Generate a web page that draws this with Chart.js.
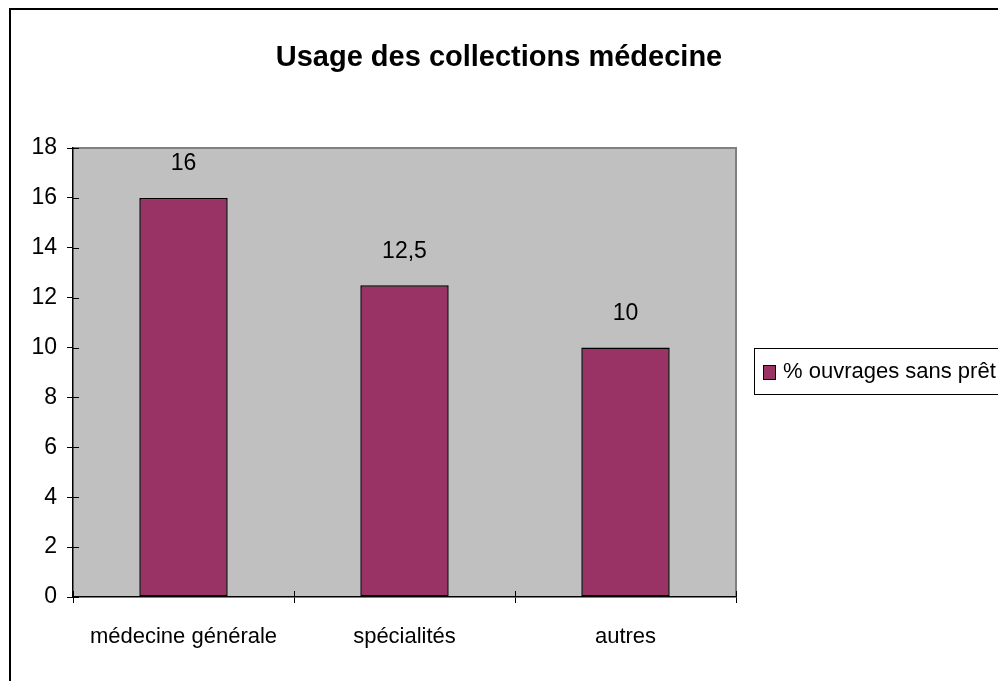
<!DOCTYPE html>
<html>
<head>
<meta charset="utf-8">
<script src="https://cdn.jsdelivr.net/npm/chart.js@4.4.1/dist/chart.umd.min.js"></script>
<style>
  html, body { margin: 0; padding: 0; background: #fff; }
  #wrap { width: 998px; height: 681px; position: relative; }
</style>
</head>
<body>
<div id="wrap"><canvas id="c" width="998" height="681"></canvas></div>
<script>
const categories = ['médecine générale', 'spécialités', 'autres'];
const seriesLabel = '% ouvrages sans prêt';
const seriesValues = [16, 12.5, 10];
const yTicks = [0, 2, 4, 6, 8, 10, 12, 14, 16, 18];
const chartTitle = 'Usage des collections médecine';

const FONT = "'Liberation Sans', Arial, sans-serif";
const BAR = '#993366';
const PLOT_BG = '#C0C0C0';

const framePlugin = {
  id: 'frame',
  beforeDraw(chart) {
    const { ctx, chartArea: a } = chart;
    ctx.save();
    ctx.fillStyle = '#fff';
    ctx.fillRect(0, 0, chart.width, chart.height);
    // outer frame (left + top)
    ctx.fillStyle = '#000';
    ctx.fillRect(9, 8, 2, chart.height - 8);
    ctx.fillRect(9, 8, chart.width - 9, 2);
    // plot area
    ctx.fillStyle = PLOT_BG;
    ctx.fillRect(a.left, a.top, a.right - a.left, a.bottom - a.top);
    ctx.strokeStyle = '#808080';
    ctx.lineWidth = 2;
    ctx.beginPath();
    ctx.moveTo(a.left, a.top);
    ctx.lineTo(a.right, a.top);
    ctx.lineTo(a.right, a.bottom);
    ctx.stroke();
    ctx.restore();
  },
  afterDraw(chart) {
    const { ctx, chartArea: a } = chart;
    const ys = chart.scales.y;
    ctx.save();
    ctx.strokeStyle = '#000';
    ctx.lineWidth = 1;
    // inner halves of the cross tick marks
    ctx.beginPath();
    ys.ticks.forEach((t, i) => {
      const y = Math.round(ys.getPixelForTick(i)) + 0.5;
      ctx.moveTo(a.left, y);
      ctx.lineTo(a.left + 6, y);
    });
    for (let i = 0; i <= categories.length; i++) {
      const x = Math.round(a.left + (a.right - a.left) * i / categories.length) + 0.5;
      ctx.moveTo(x, a.bottom);
      ctx.lineTo(x, a.bottom - 6);
    }
    ctx.stroke();
    // value labels
    ctx.fillStyle = '#000';
    ctx.font = '23px ' + FONT;
    ctx.textAlign = 'center';
    ctx.textBaseline = 'middle';
    const meta = chart.getDatasetMeta(0);
    meta.data.forEach((bar, i) => {
      const v = chart.data.datasets[0].data[i];
      ctx.fillText(String(v).replace('.', ','), bar.x, bar.y - 34);
    });
    // legend box
    const lx = 754, ly = 348, lh = 46;
    ctx.fillStyle = '#fff';
    ctx.fillRect(lx, ly, chart.width - lx + 5, lh);
    ctx.strokeStyle = '#000';
    ctx.lineWidth = 1;
    ctx.strokeRect(lx + 0.5, ly + 0.5, chart.width - lx + 5, lh);
    ctx.fillStyle = BAR;
    ctx.fillRect(763, 365, 12, 14);
    ctx.strokeRect(763.5, 365.5, 12, 14);
    ctx.fillStyle = '#000';
    ctx.textAlign = 'left';
    ctx.font = '22px ' + FONT;
    ctx.fillText(chart.data.datasets[0].label, 783, 372);
    ctx.restore();
  }
};

new Chart(document.getElementById('c'), {
  type: 'bar',
  data: {
    labels: categories,
    datasets: [{
      label: seriesLabel,
      data: seriesValues,
      backgroundColor: BAR,
      borderColor: '#000',
      borderWidth: 1.5,
      borderSkipped: false,
      barPercentage: 0.4,
      categoryPercentage: 1.0
    }]
  },
  options: {
    responsive: false,
    animation: false,
    devicePixelRatio: 1,
    layout: { padding: 0 },
    plugins: {
      legend: { display: false },
      tooltip: { enabled: false },
      title: {
        display: true,
        text: chartTitle,
        color: '#000',
        font: { family: FONT, size: 29, weight: 'bold', lineHeight: 1.2 },
        padding: { top: 41, bottom: 72.2 }
      }
    },
    scales: {
      x: {
        offset: true,
        afterFit(s) { s.height = 84; },
        grid: {
          offset: true,
          drawOnChartArea: false,
          drawTicks: true,
          tickLength: 6,
          color: '#000',
          lineWidth: 1
        },
        border: { display: true, color: '#000', width: 1.5 },
        ticks: {
          color: '#000',
          font: { family: FONT, size: 22 },
          padding: 21,
          maxRotation: 0,
          autoSkip: false
        }
      },
      y: {
        min: 0,
        max: 18,
        afterFit(s) { s.width = 73; },
        afterBuildTicks(s) { s.ticks = yTicks.map(v => ({ value: v })); },
        grid: {
          drawOnChartArea: false,
          drawTicks: true,
          tickLength: 6,
          color: '#000',
          lineWidth: 1
        },
        border: { display: true, color: '#000', width: 1.5 },
        ticks: {
          color: '#000',
          font: { family: FONT, size: 23 },
          padding: 10
        }
      },
      y2: {
        position: 'right',
        display: true,
        afterFit(s) { s.width = 262; },
        grid: { display: false, drawTicks: false },
        border: { display: false },
        ticks: { display: false }
      }
    }
  },
  plugins: [framePlugin]
});
</script>
</body>
</html>
